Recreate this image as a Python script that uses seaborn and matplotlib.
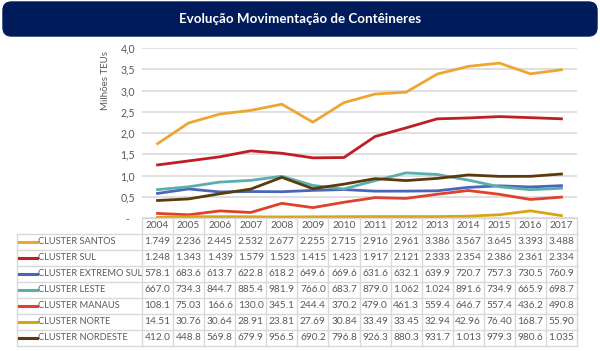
import matplotlib
matplotlib.use("Agg")
import matplotlib.pyplot as plt
import seaborn as sns
import pandas as pd
import numpy as np
from matplotlib.patches import FancyBboxPatch
from matplotlib.lines import Line2D

years = [2004, 2005, 2006, 2007, 2008, 2009, 2010, 2011, 2012, 2013, 2014, 2015, 2016, 2017]
clusters = ["CLUSTER SANTOS", "CLUSTER SUL", "CLUSTER EXTREMO SUL", "CLUSTER LESTE",
            "CLUSTER MANAUS", "CLUSTER NORTE", "CLUSTER NORDESTE"]
# values in thousand TEUs
santos = [1749, 2236, 2445, 2532, 2677, 2255, 2715, 2916, 2961, 3386, 3567, 3645, 3393, 3488]
sul = [1248, 1343, 1439, 1579, 1523, 1415, 1423, 1917, 2121, 2333, 2354, 2386, 2361, 2334]
extremo_sul = [578.1, 683.6, 613.7, 622.8, 618.2, 649.6, 669.6, 631.6, 632.1, 639.9, 720.7, 757.3, 730.5, 760.9]
leste = [667.0, 734.3, 844.7, 885.4, 981.9, 766.0, 683.7, 879.0, 1062, 1024, 891.6, 734.9, 665.9, 698.7]
manaus = [108.1, 75.03, 166.6, 130.0, 345.1, 244.4, 370.2, 479.0, 461.3, 559.4, 646.7, 557.4, 436.2, 490.8]
norte = [14.51, 30.76, 30.64, 28.91, 23.81, 27.69, 30.84, 33.49, 33.45, 32.94, 42.96, 76.40, 168.7, 55.90]
nordeste = [412.0, 448.8, 569.8, 679.9, 956.5, 690.2, 796.8, 926.3, 880.3, 931.7, 1013, 979.3, 980.6, 1035]
series = [santos, sul, extremo_sul, leste, manaus, norte, nordeste]
colors = ["#EEA632", "#BE1E24", "#4A66BA", "#5BAEAE", "#E0402C", "#D6A614", "#5B3A0E"]
yticks = [0, 0.5, 1.0, 1.5, 2.0, 2.5, 3.0, 3.5, 4.0]

def fmt(t):
    if t >= 1000:
        return f"{t/1000:.3f}"
    if t >= 100:
        return f"{t:.1f}"
    return f"{t:.2f}"

rows = []
for c, vals in zip(clusters, series):
    for i, (y, v) in enumerate(zip(years, vals)):
        rows.append({"cluster": c, "pos": i, "year": y, "value": v / 1000.0})
df = pd.DataFrame(rows)

W, H = 600, 351
fig = plt.figure(figsize=(W / 100, H / 100), dpi=100)
fig.patch.set_facecolor("white")

def fx(x):
    return x / W

def fy(y):
    return 1 - y / H

FONT = ["Lato", "DejaVu Sans"]
GRAY = "#595959"
BORDER = "#D9D9D9"
LFS = 6.7   # row labels
NFS = 7.3   # numbers / years

# Title bar
bar = FancyBboxPatch((fx(3), fy(36)), fx(594), 34 / H,
                     boxstyle="round,pad=0,rounding_size=0.014",
                     transform=fig.transFigure, facecolor="#001B5A",
                     edgecolor="#001B5A", mutation_aspect=W / H)
fig.patches.append(bar)
fig.text(0.5, fy(19), "Evolução Movimentação de Contêineres", color="white",
         fontsize=9.6, fontweight="bold", ha="center", va="center", family=FONT)

# Plot area
x0, x1 = 142, 577
ytop, ybot = 48, 218
ax = fig.add_axes([fx(x0), fy(ybot), (x1 - x0) / W, (ybot - ytop) / H])
sns.lineplot(data=df, x="pos", y="value", hue="cluster", hue_order=clusters,
             palette=colors, linewidth=2.0, legend=False, ax=ax)
ax.set_xlim(-0.5, len(years) - 0.5)
ax.set_ylim(0, 4.0)
ax.set_yticks(yticks)
ax.set_yticklabels(["-  "] + [f"{v:.1f}".replace(".", ",") for v in yticks[1:]],
                   fontsize=7.6, color=GRAY, family=FONT)
ax.set_xticks([])
ax.set_xlabel("")
ax.set_ylabel("")
ax.tick_params(axis="y", length=0, pad=5)
for s in ax.spines.values():
    s.set_visible(False)
ax.grid(axis="y", color=BORDER, linewidth=1.2)
ax.set_axisbelow(True)
ax.set_facecolor("white")
fig.text(fx(106), fy(80), "Milhões TEUs", rotation=90, fontsize=7.0, color=GRAY,
         ha="center", va="center", family=FONT)

# Data table
colw = (x1 - x0) / len(years)
row_edges = [218, 234, 250, 266, 282, 298, 314, 330, 346]
tl = 17

def hline(xa, xb, y):
    fig.add_artist(Line2D([fx(xa), fx(xb)], [fy(y), fy(y)], color=BORDER,
                          linewidth=1.0, transform=fig.transFigure))

def vline(x, ya, yb):
    fig.add_artist(Line2D([fx(x), fx(x)], [fy(ya), fy(yb)], color=BORDER,
                          linewidth=1.0, transform=fig.transFigure))

hline(x0, x1, row_edges[0])
for y in row_edges[1:]:
    hline(tl, x1, y)
vline(tl, row_edges[1], row_edges[-1])
for k in range(len(years) + 1):
    vline(x0 + k * colw, row_edges[0], row_edges[-1])

for i, y in enumerate(years):
    fig.text(fx(x0 + (i + 0.5) * colw), fy((row_edges[0] + row_edges[1]) / 2), str(y),
             fontsize=NFS, color=GRAY, ha="center", va="center", family=FONT)

for r, (c, vals, col) in enumerate(zip(clusters, series, colors)):
    yc = (row_edges[r + 1] + row_edges[r + 2]) / 2
    fig.add_artist(Line2D([fx(19), fx(37)], [fy(yc), fy(yc)], color=col,
                          linewidth=2.2, transform=fig.transFigure))
    fig.text(fx(38), fy(yc), c, fontsize=LFS, color=GRAY, ha="left", va="center", family=FONT)
    for i, v in enumerate(vals):
        fig.text(fx(x0 + (i + 0.5) * colw), fy(yc), fmt(v), fontsize=NFS, color=GRAY,
                 ha="center", va="center", family=FONT)

fig.savefig("out.png", dpi=100, facecolor="white")
